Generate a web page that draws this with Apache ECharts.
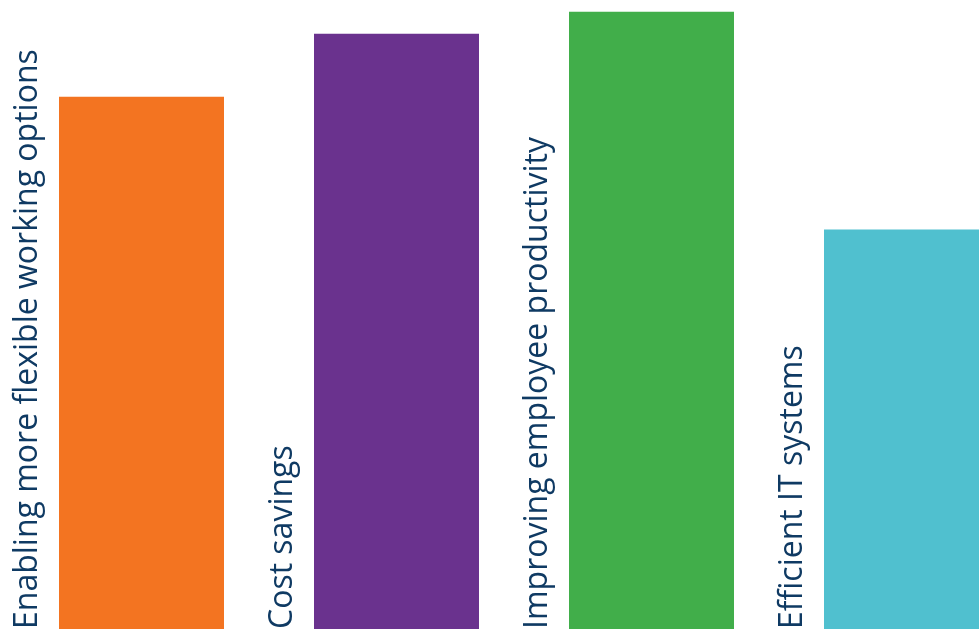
<!DOCTYPE html>
<html>
<head>
<meta charset="utf-8">
<script src="https://cdn.jsdelivr.net/npm/echarts@6/dist/echarts.min.js"></script>
<style>
html,body{margin:0;padding:0;background:#fff;}
#chart{width:979px;height:630px;}
</style>
</head>
<body>
<div id="chart"></div>
<script>
const categories = [
  'Enabling more flexible working options',
  'Cost savings',
  'Improving employee productivity',
  'Efficient IT systems'
];
const values = [45.7, 51.1, 53.0, 34.3];
const colors = ['#f37421', '#6a328e', '#41ae4a', '#50c0cf'];

const chart = echarts.init(document.getElementById('chart'), null, {renderer: 'canvas'});
chart.setOption({
  animation: false,
  grid: {left: 14, width: 1020, top: 0, bottom: 1, containLabel: false, outerBoundsMode: 'none'},
  xAxis: {
    type: 'category',
    data: categories,
    show: false
  },
  yAxis: {
    type: 'value',
    min: 0,
    max: 54,
    show: false
  },
  series: [{
    type: 'bar',
    barWidth: 165,
    data: values.map((v, i) => ({value: v, itemStyle: {color: colors[i]}})),
    label: {
      show: true,
      formatter: p => categories[p.dataIndex],
      position: [-14, '100%'],
      rotate: 90,
      align: 'left',
      verticalAlign: 'bottom',
      fontFamily: 'Open Sans',
      fontSize: 32,
      color: '#0f3a63',
      offset: [0, -1]
    }
  }]
});
</script>
</body>
</html>
